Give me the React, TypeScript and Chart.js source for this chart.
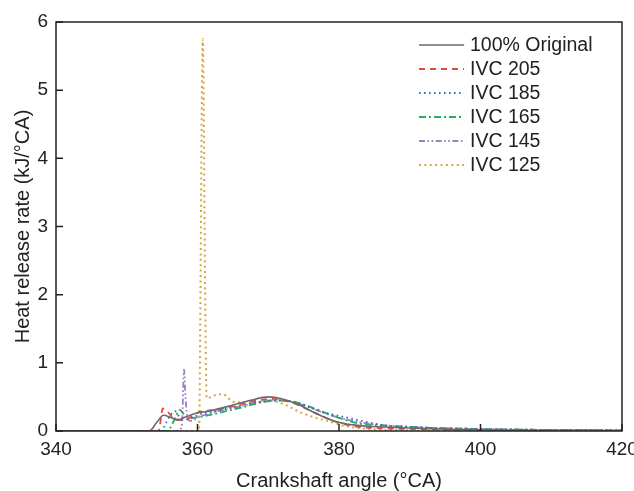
import React, { useEffect, useRef } from "react";
import { Chart, registerables } from "chart.js";

Chart.register(...registerables);

const xTicks = [340, 360, 380, 400, 420];
const yTicks = [0, 1, 2, 3, 4, 5, 6];

const seriesLabels = ["100% Original", "IVC 205", "IVC 185", "IVC 165", "IVC 145", "IVC 125"];

const origAngles = [340, 353.2, 354.2, 355.2, 356.2, 357.2, 358.2, 359.8, 362, 365, 367.5, 370, 372, 374.4, 376.7, 379.5, 382, 384, 388.5, 395.5, 402, 410, 420];
const origValues = [0, 0, 0.12, 0.23, 0.2, 0.16, 0.2, 0.26, 0.3, 0.38, 0.45, 0.5, 0.47, 0.38, 0.26, 0.14, 0.09, 0.07, 0.05, 0.025, 0.015, 0.01, 0.005];

const ivc205Angles = [340, 354.5, 355.1, 355.8, 356.5, 357.9, 360.3, 362.6, 365, 368, 370.5, 373, 375.5, 378, 380, 382.8, 386, 390, 395, 400, 410, 420];
const ivc205Values = [0, 0, 0.33, 0.28, 0.2, 0.16, 0.28, 0.31, 0.36, 0.44, 0.47, 0.43, 0.32, 0.2, 0.12, 0.06, 0.04, 0.03, 0.02, 0.015, 0.01, 0.005];

const ivc185Angles = [340, 355, 355.4, 356.3, 356.8, 357.5, 358.5, 360.5, 363, 366, 369, 371, 373, 375, 378, 381.4, 384, 386, 390, 395, 400, 410, 420];
const ivc185Values = [0, 0, 0.09, 0.25, 0.29, 0.2, 0.17, 0.25, 0.3, 0.37, 0.43, 0.45, 0.44, 0.38, 0.27, 0.19, 0.13, 0.09, 0.06, 0.04, 0.03, 0.015, 0.01];

const ivc165Angles = [340, 355.6, 356.1, 356.8, 357.5, 358.2, 359.1, 360, 362, 364, 366.9, 369, 371.5, 374, 376.5, 379.5, 382.8, 386, 390, 395, 400, 410, 420];
const ivc165Values = [0, 0, 0.04, 0.18, 0.31, 0.23, 0.19, 0.2, 0.24, 0.29, 0.36, 0.42, 0.45, 0.42, 0.33, 0.21, 0.11, 0.08, 0.06, 0.04, 0.03, 0.015, 0.01];

const ivc145Angles = [340, 357.3, 357.8, 358.1, 358.3, 358.6, 359, 360.5, 363, 366, 368.5, 370.5, 373, 375.5, 378, 381, 384, 387, 390, 395, 400, 410, 420];
const ivc145Values = [0, 0, 0.1, 0.9, 0.5, 0.18, 0.15, 0.22, 0.29, 0.36, 0.42, 0.45, 0.43, 0.36, 0.26, 0.17, 0.11, 0.08, 0.06, 0.04, 0.03, 0.015, 0.01];

const ivc125Angles = [340, 360.2, 360.75, 361.1, 361.3, 362.6, 363.6, 365, 367, 370.5, 372.5, 374.4, 376.5, 378.6, 381, 385, 390, 400, 420];
const ivc125Values = [0, 0, 5.75, 1.8, 0.48, 0.53, 0.54, 0.43, 0.42, 0.44, 0.38, 0.28, 0.2, 0.14, 0.07, 0.025, 0.01, 0, 0];

const FONT = "'Liberation Sans', Arial, Helvetica, sans-serif";

const toPoints = (a: number[], v: number[]) => a.map((x, i) => ({ x, y: v[i] }));

const styles = [
  { color: "#6a6a6a", dash: [] as number[], width: 1.6 },
  { color: "#e8473f", dash: [6, 5], width: 1.8 },
  { color: "#3a68c4", dash: [1.6, 3.4], width: 1.8 },
  { color: "#27ae60", dash: [7, 3, 2, 3], width: 1.8 },
  { color: "#9b7ec8", dash: [6, 2.5, 1.6, 2.5, 1.6, 2.5], width: 1.8 },
  { color: "#d9a540", dash: [2, 3.4], width: 2 },
];

const seriesData = [
  toPoints(origAngles, origValues),
  toPoints(ivc205Angles, ivc205Values),
  toPoints(ivc185Angles, ivc185Values),
  toPoints(ivc165Angles, ivc165Values),
  toPoints(ivc145Angles, ivc145Values),
  toPoints(ivc125Angles, ivc125Values),
];

const framePlugin = {
  id: "frameAndLegend",
  afterDraw(chart: any) {
    const { ctx, chartArea } = chart;
    const { left, right, top, bottom } = chartArea;
    const xs = chart.scales.x;
    const ys = chart.scales.y;
    ctx.save();
    ctx.strokeStyle = "#222";
    ctx.lineWidth = 1.5;
    ctx.setLineDash([]);
    ctx.strokeRect(left, top, right - left, bottom - top);
    ctx.beginPath();
    xTicks.forEach((t) => {
      const px = xs.getPixelForValue(t);
      ctx.moveTo(px, bottom);
      ctx.lineTo(px, bottom - 7);
    });
    yTicks.forEach((t) => {
      const py = ys.getPixelForValue(t);
      ctx.moveTo(left, py);
      ctx.lineTo(left + 7, py);
    });
    ctx.stroke();

    // legend
    const lx0 = 419;
    const lx1 = 464;
    const tx = 470;
    const y0 = 45;
    const dy = 24;
    ctx.font = `19.5px ${FONT}`;
    ctx.textBaseline = "middle";
    ctx.textAlign = "left";
    seriesLabels.forEach((lab, i) => {
      const y = y0 + i * dy;
      const s = styles[i];
      ctx.strokeStyle = s.color;
      ctx.lineWidth = s.width;
      ctx.setLineDash(s.dash);
      ctx.beginPath();
      ctx.moveTo(lx0, y);
      ctx.lineTo(lx1, y);
      ctx.stroke();
      ctx.setLineDash([]);
      ctx.fillStyle = "#222";
      ctx.fillText(lab, tx, y + 1);
    });
    ctx.restore();
  },
};

export default function App() {
  const ref = useRef<HTMLCanvasElement | null>(null);

  useEffect(() => {
    document.body.style.margin = "0";
    if (!ref.current) return;
    const chart = new Chart(ref.current, {
      type: "line",
      data: {
        datasets: seriesLabels.map((label, i) => ({
          label,
          data: seriesData[i],
          borderColor: styles[i].color,
          borderDash: styles[i].dash,
          borderWidth: styles[i].width,
          pointRadius: 0,
          fill: false,
          cubicInterpolationMode: "monotone" as const,
        })),
      },
      options: {
        animation: false,
        responsive: false,
        maintainAspectRatio: false,
        layout: { padding: { top: 22, right: 12, left: 0, bottom: 0 } },
        plugins: {
          legend: { display: false },
          tooltip: { enabled: false },
        },
        scales: {
          x: {
            type: "linear",
            min: 340,
            max: 420,
            afterBuildTicks: (scale: any) => {
              scale.ticks = xTicks.map((v) => ({ value: v }));
            },
            afterFit: (scale: any) => {
              scale.height = 60;
              scale.paddingLeft = 0;
              scale.paddingRight = 0;
            },
            grid: { display: false, drawTicks: false },
            border: { display: false },
            ticks: {
              padding: 7,
              color: "#222",
              font: { family: FONT, size: 19 },
              maxRotation: 0,
              autoSkip: false,
            },
            title: {
              display: true,
              text: "Crankshaft angle (°CA)",
              color: "#222",
              font: { family: FONT, size: 20, lineHeight: 1 },
              padding: { top: 0, bottom: 0 },
            },
          },
          y: {
            type: "linear",
            min: 0,
            max: 6,
            afterBuildTicks: (scale: any) => {
              scale.ticks = yTicks.map((v) => ({ value: v }));
            },
            afterFit: (scale: any) => {
              scale.width = 56;
              scale.paddingTop = 0;
              scale.paddingBottom = 0;
            },
            grid: { display: false, drawTicks: false },
            border: { display: false },
            ticks: {
              padding: 8,
              color: "#222",
              font: { family: FONT, size: 19 },
              autoSkip: false,
            },
            title: {
              display: true,
              text: "Heat release rate (kJ/°CA)",
              color: "#222",
              font: { family: FONT, size: 20, lineHeight: 1 },
              padding: { top: 13, bottom: 0 },
            },
          },
        },
      },
      plugins: [framePlugin],
    });
    return () => chart.destroy();
  }, []);

  return (
    <div style={{ width: 634, height: 491 }}>
      <canvas ref={ref} width={634} height={491} style={{ display: "block" }} />
    </div>
  );
}
